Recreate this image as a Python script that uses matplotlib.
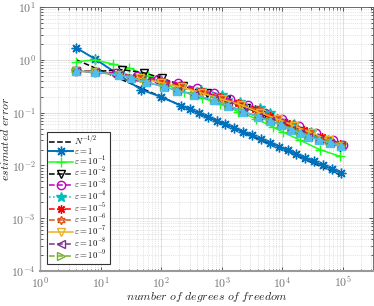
import math
import matplotlib
matplotlib.use('Agg')
import matplotlib.pyplot as plt
from matplotlib.ticker import LogLocator, FuncFormatter, NullFormatter

plt.rcParams['mathtext.fontset'] = 'cm'

# epsilon = 1
n_e0 = [4, 8, 47, 100, 212, 300, 420, 590, 830, 1160, 1630, 2280, 3200, 4480,
        6270, 8780, 12300, 17200, 24100, 33700, 47200, 66100, 92500]
err_e0 = [1.68, 1.05, 0.272, 0.20, 0.136, 0.116, 0.098, 0.083, 0.071, 0.060, 0.051,
          0.0435, 0.037, 0.0315, 0.0268, 0.0227, 0.0194, 0.0165, 0.014, 0.0119,
          0.0101, 0.0086, 0.0073]
# epsilon = 1e-1
n_e1 = [4, 8, 16, 30, 60, 120, 240, 480, 950, 1900, 3700, 7200, 10300, 20000, 42000, 92000]
err_e1 = [0.92, 1.0, 0.83, 0.70, 0.50, 0.34, 0.25, 0.19, 0.145, 0.105, 0.077, 0.053,
          0.043, 0.030, 0.020, 0.0148]
# epsilon = 1e-2
n_e2 = [4, 8, 23, 52, 104, 230, 570, 1200, 2500, 5000, 10000, 20000, 40000, 90000]
err_e2 = [0.62, 0.60, 0.65, 0.57, 0.45, 0.32, 0.24, 0.17, 0.125, 0.09, 0.063, 0.045, 0.032, 0.022]
# epsilon = 1e-3
n_e3 = [4, 8, 18, 40, 90, 190, 400, 740, 1400, 2700, 5200, 10000, 19000, 36000, 70000, 100000]
err_e3 = [0.62, 0.60, 0.56, 0.50, 0.44, 0.36, 0.29, 0.24, 0.18, 0.14, 0.10, 0.075,
          0.055, 0.041, 0.030, 0.024]
# epsilon = 1e-4
n_e4 = [4, 8, 20, 45, 100, 210, 450, 1000, 2000, 4300, 6400, 16000, 30000, 58000, 95000]
err_e4 = [0.62, 0.60, 0.53, 0.47, 0.40, 0.32, 0.27, 0.22, 0.16, 0.12, 0.10, 0.06, 0.043, 0.031, 0.024]
# epsilon = 1e-5
n_e5 = [4, 8, 20, 45, 100, 210, 450, 950, 1900, 3600, 6400, 12000, 23000, 45000, 90000]
err_e5 = [0.62, 0.60, 0.53, 0.47, 0.40, 0.33, 0.26, 0.20, 0.15, 0.115, 0.085, 0.063,
          0.046, 0.034, 0.025]
# epsilon = 1e-6
n_e6 = [4, 8, 20, 45, 100, 220, 480, 1000, 2100, 4200, 8200, 15000, 28000, 52000, 95000]
err_e6 = [0.62, 0.60, 0.52, 0.46, 0.39, 0.31, 0.25, 0.19, 0.145, 0.11, 0.08, 0.06,
          0.044, 0.032, 0.024]
# epsilon = 1e-7
n_e7 = [4, 8, 20, 45, 100, 220, 480, 1000, 2100, 4300, 8600, 16000, 31000, 60000, 98000]
err_e7 = [0.61, 0.59, 0.51, 0.45, 0.37, 0.30, 0.235, 0.18, 0.14, 0.10, 0.075, 0.056,
          0.041, 0.030, 0.023]
# epsilon = 1e-8
n_e8 = [4, 8, 20, 32, 57, 112, 184, 350, 740, 1300, 2300, 4000, 6200, 9600, 14000,
        20000, 27000, 40000, 61000, 93000]
err_e8 = [0.61, 0.59, 0.52, 0.46, 0.38, 0.31, 0.26, 0.22, 0.17, 0.135, 0.105, 0.084,
          0.07, 0.059, 0.048, 0.041, 0.035, 0.031, 0.027, 0.023]
# epsilon = 1e-9
n_e9 = [4, 8, 20, 32, 57, 112, 184, 350, 740, 1300, 2300, 4000, 6200, 9600, 14000,
        20000, 27000, 40000, 61000, 93000]
err_e9 = [0.61, 0.59, 0.52, 0.46, 0.38, 0.31, 0.26, 0.22, 0.17, 0.135, 0.105, 0.084,
          0.07, 0.059, 0.048, 0.041, 0.035, 0.031, 0.027, 0.023]
# extra run (not in legend)
n_ex = [4, 8, 20, 32, 57, 112, 184, 350, 740, 1300, 2300, 4000, 6200, 9600, 14000,
        20000, 27000, 40000, 61000, 93000]
err_ex = [0.61, 0.59, 0.52, 0.46, 0.38, 0.31, 0.26, 0.22, 0.17, 0.135, 0.105, 0.084,
          0.07, 0.059, 0.048, 0.041, 0.035, 0.031, 0.027, 0.023]

ref_const = 2.0

labels = [r'$N^{-1/2}$', r'$\varepsilon = 1$'] + \
    [r'$\varepsilon = 10^{-%d}$' % k for k in range(1, 10)]

fig = plt.figure(figsize=(3.74, 3.06), dpi=100)
ax = fig.add_axes([0.107, 0.114, 0.89, 0.863])

lw = 1.1
ms = 6
asterisk = (8, 2, 0)
ax.plot(n_e0, [ref_const * n ** -0.5 for n in n_e0], '--', color='k', lw=lw, label=labels[0])
ax.plot(n_e0, err_e0, '-', color=(0, 0.447, 0.741), marker=asterisk, ms=7, lw=1.4, label=labels[1])
ax.plot(n_e1, err_e1, '-', color=(0.1, 1, 0.1), marker='+', ms=7, lw=lw, label=labels[2])
ax.plot(n_e2, err_e2, '--', color='k', marker='v', mfc='none', ms=ms, lw=lw, label=labels[3])
ax.plot(n_e3, err_e3, '--', color='m', marker='o', mfc='none', ms=ms, lw=lw, label=labels[4])
ax.plot(n_e4, err_e4, ':', color='c', marker='*', ms=7, lw=lw, label=labels[5])
ax.plot(n_e5, err_e5, '--', color='r', marker=asterisk, ms=ms, lw=lw, label=labels[6])
ax.plot(n_e6, err_e6, '--', color=(0.85, 0.325, 0.098), marker=(6, 1, 0), mfc='none', ms=ms, lw=lw, label=labels[7])
ax.plot(n_e7, err_e7, '-', color=(0.929, 0.694, 0.125), marker='v', mfc='none', ms=ms, lw=lw, label=labels[8])
ax.plot(n_e8, err_e8, '--', color=(0.494, 0.184, 0.556), marker='<', mfc='none', ms=ms, lw=lw, label=labels[9])
ax.plot(n_e9, err_e9, '--', color=(0.466, 0.674, 0.188), marker='>', mfc='none', ms=ms, lw=lw, label=labels[10])
ax.plot(n_ex, err_ex, '-', color=(0.301, 0.745, 0.933), marker='^', ms=ms, lw=lw)

ax.set_xscale('log')
ax.set_yscale('log')
ax.set_xlim(1, 10 ** 5.5)
ax.set_ylim(1e-4, 10)
ax.xaxis.set_major_locator(LogLocator(base=10, numticks=10))
ax.yaxis.set_major_locator(LogLocator(base=10, numticks=10))
fmt = FuncFormatter(lambda v, p: r'$10^{%d}$' % round(math.log10(v)))
ax.xaxis.set_major_formatter(fmt)
ax.yaxis.set_major_formatter(fmt)
ax.xaxis.set_minor_formatter(NullFormatter())
ax.yaxis.set_minor_formatter(NullFormatter())
ax.tick_params(which='both', direction='in', top=True, right=True, colors='0.25',
               labelcolor='0.45', labelsize=8.5, width=0.6)
ax.tick_params(which='major', length=3, pad=3)
ax.tick_params(which='minor', length=1.8)
ax.grid(which='major', color='0.88', lw=0.7, ls='-')
ax.grid(which='minor', color='0.8', lw=0.5, ls=':')
ax.set_axisbelow(True)
for s in ax.spines.values():
    s.set_color('0.35')
    s.set_linewidth(0.6)
ax.spines['bottom'].set_color('0.6')
ax.spines['bottom'].set_linewidth(1.5)
ax.spines['left'].set_color('0.6')
ax.spines['left'].set_linewidth(1.0)

ax.set_xlabel(r'$number\ of\ degrees\ of\ freedom$', fontsize=8.5, color='0.15', labelpad=0)
ax.set_ylabel(r'$estimated\ error$', fontsize=8.5, color='0.15', labelpad=0)
ax.xaxis.set_label_coords(0.5, -0.072)
ax.yaxis.set_label_coords(-0.085, 0.5)

leg = ax.legend(loc='lower left', bbox_to_anchor=(0.02, 0.026), fontsize=6.3,
                handlelength=2.7, handletextpad=0.15, labelspacing=-0.15, borderpad=0.3,
                fancybox=False, framealpha=1, edgecolor='0.2', borderaxespad=0)
leg.get_frame().set_linewidth(0.8)

fig.savefig('out.png', dpi=100)
